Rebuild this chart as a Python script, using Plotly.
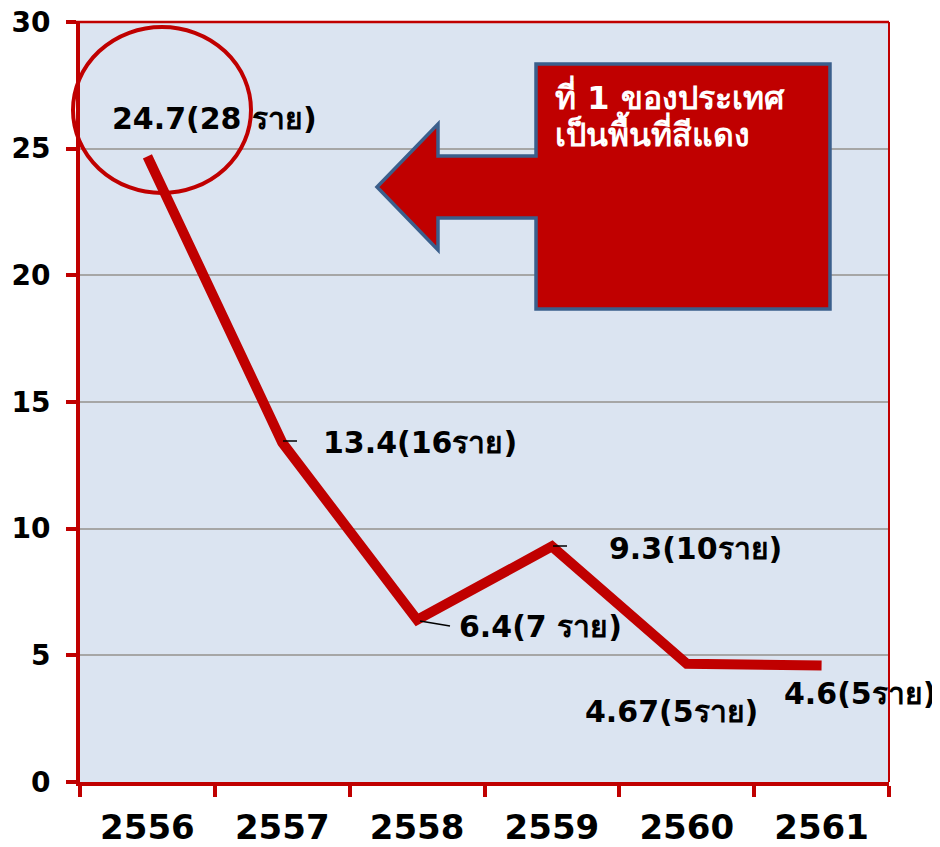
import plotly.graph_objects as go

years = ["2556", "2557", "2558", "2559", "2560", "2561"]
rates = [24.7, 13.4, 6.4, 9.3, 4.67, 4.6]
labels = ["24.7(28 ราย)", "13.4(16ราย)", "6.4(7 ราย)", "9.3(10ราย)", "4.67(5ราย)", "4.6(5ราย)"]
y_ticks = [0, 5, 10, 15, 20, 25, 30]
callout_lines = ["ที่ 1 ของประเทศ", "เป็นพื้นที่สีแดง"]

# page is rendered with an 8px body margin, so the figure is 8px smaller
OFF = 8
W, H = 940 - OFF, 847 - OFF
# plot area in page pixels
L, R, T, B = 80, 889, 22, 782
RED = "#c00000"
FONT = "Tahoma, Verdana, DejaVu Sans, sans-serif"


def px(x):
    return (x - L) / (R - L)


def py(y):
    return (B - y) / (B - T)


fig = go.Figure()
fig.add_trace(go.Scatter(
    x=years, y=rates, mode="lines",
    line=dict(color=RED, width=10),
    hoverinfo="skip", showlegend=False,
))

# data labels
offsets = [(67, 38), (138, 0), (123, -7), (144, -2), (-15, -48), (38, -28)]
for i, (v, lab, (dx, dy)) in enumerate(zip(rates, labels, offsets)):
    fig.add_annotation(x=i, y=v, text=lab, showarrow=False,
                       xshift=dx, yshift=dy,
                       font=dict(family=FONT, size=30, color="black", weight="bold"),
                       xanchor="center", yanchor="middle")

shapes = []
# top & right borders
shapes.append(dict(type="line", xref="paper", yref="paper", x0=px(70), x1=1, y0=1, y1=1,
                   line=dict(color=RED, width=2.5)))
shapes.append(dict(type="line", xref="paper", yref="paper", x0=1, x1=1, y0=0, y1=1,
                   line=dict(color=RED, width=2)))
# leader lines
for (x0, y0, x1, y1) in [(283, 441, 297, 441), (420, 621, 450, 626), (553, 546, 567, 546)]:
    shapes.append(dict(type="line", xref="paper", yref="paper",
                       x0=px(x0), y0=py(y0), x1=px(x1), y1=py(y1),
                       line=dict(color="black", width=1.5)))
# ellipse
shapes.append(dict(type="circle", xref="paper", yref="paper",
                   x0=px(73), x1=px(251), y0=py(193), y1=py(27),
                   line=dict(color=RED, width=4), fillcolor="rgba(0,0,0,0)"))
# callout arrow
pts = [(536, 64), (830, 64), (830, 309), (536, 309), (536, 218), (438, 218),
       (438, 250), (377, 187), (438, 124), (438, 156), (536, 156)]
path = "M " + " L ".join(f"{px(x):.5f},{py(y):.5f}" for x, y in pts) + " Z"
shapes.append(dict(type="path", xref="paper", yref="paper", path=path,
                   fillcolor=RED, line=dict(color="#3b5f8c", width=3.5)))
fig.update_layout(shapes=shapes)

fig.add_annotation(xref="paper", yref="paper", x=px(553), y=py(96),
                   text=callout_lines[0], showarrow=False, xanchor="left", yanchor="middle",
                   font=dict(family=FONT, size=32, color="white", weight="bold"))
fig.add_annotation(xref="paper", yref="paper", x=px(553), y=py(132),
                   text=callout_lines[1], showarrow=False, xanchor="left", yanchor="middle",
                   font=dict(family=FONT, size=32, color="white", weight="bold"))

fig.update_xaxes(
    type="category", tickson="boundaries", ticks="outside", ticklen=11, tickwidth=4,
    tickcolor=RED, showline=True, linecolor=RED, linewidth=4, showgrid=False,
    tickfont=dict(family=FONT, size=34, color="black", weight="bold"), ticklabelstandoff=12,
    range=[-0.5, 5.5], automargin=False, ticklabeloverflow="allow",
)
fig.update_yaxes(
    range=[0, 30], tickvals=y_ticks, ticks="outside", ticklen=10, tickwidth=4,
    tickcolor=RED, showline=True, linecolor=RED, linewidth=4,
    showgrid=True, gridcolor="#a6a6a6", gridwidth=2, zeroline=False,
    tickfont=dict(family=FONT, size=28, color="black", weight="bold"), ticklabelstandoff=10,
    automargin=False, ticklabeloverflow="allow",
)
fig.update_layout(
    width=W, height=H,
    margin=dict(l=L - OFF, r=940 - R, t=T - OFF, b=847 - B),
    plot_bgcolor="#dbe4f1", paper_bgcolor="white", showlegend=False,
)
fig.write_html("out.html")
